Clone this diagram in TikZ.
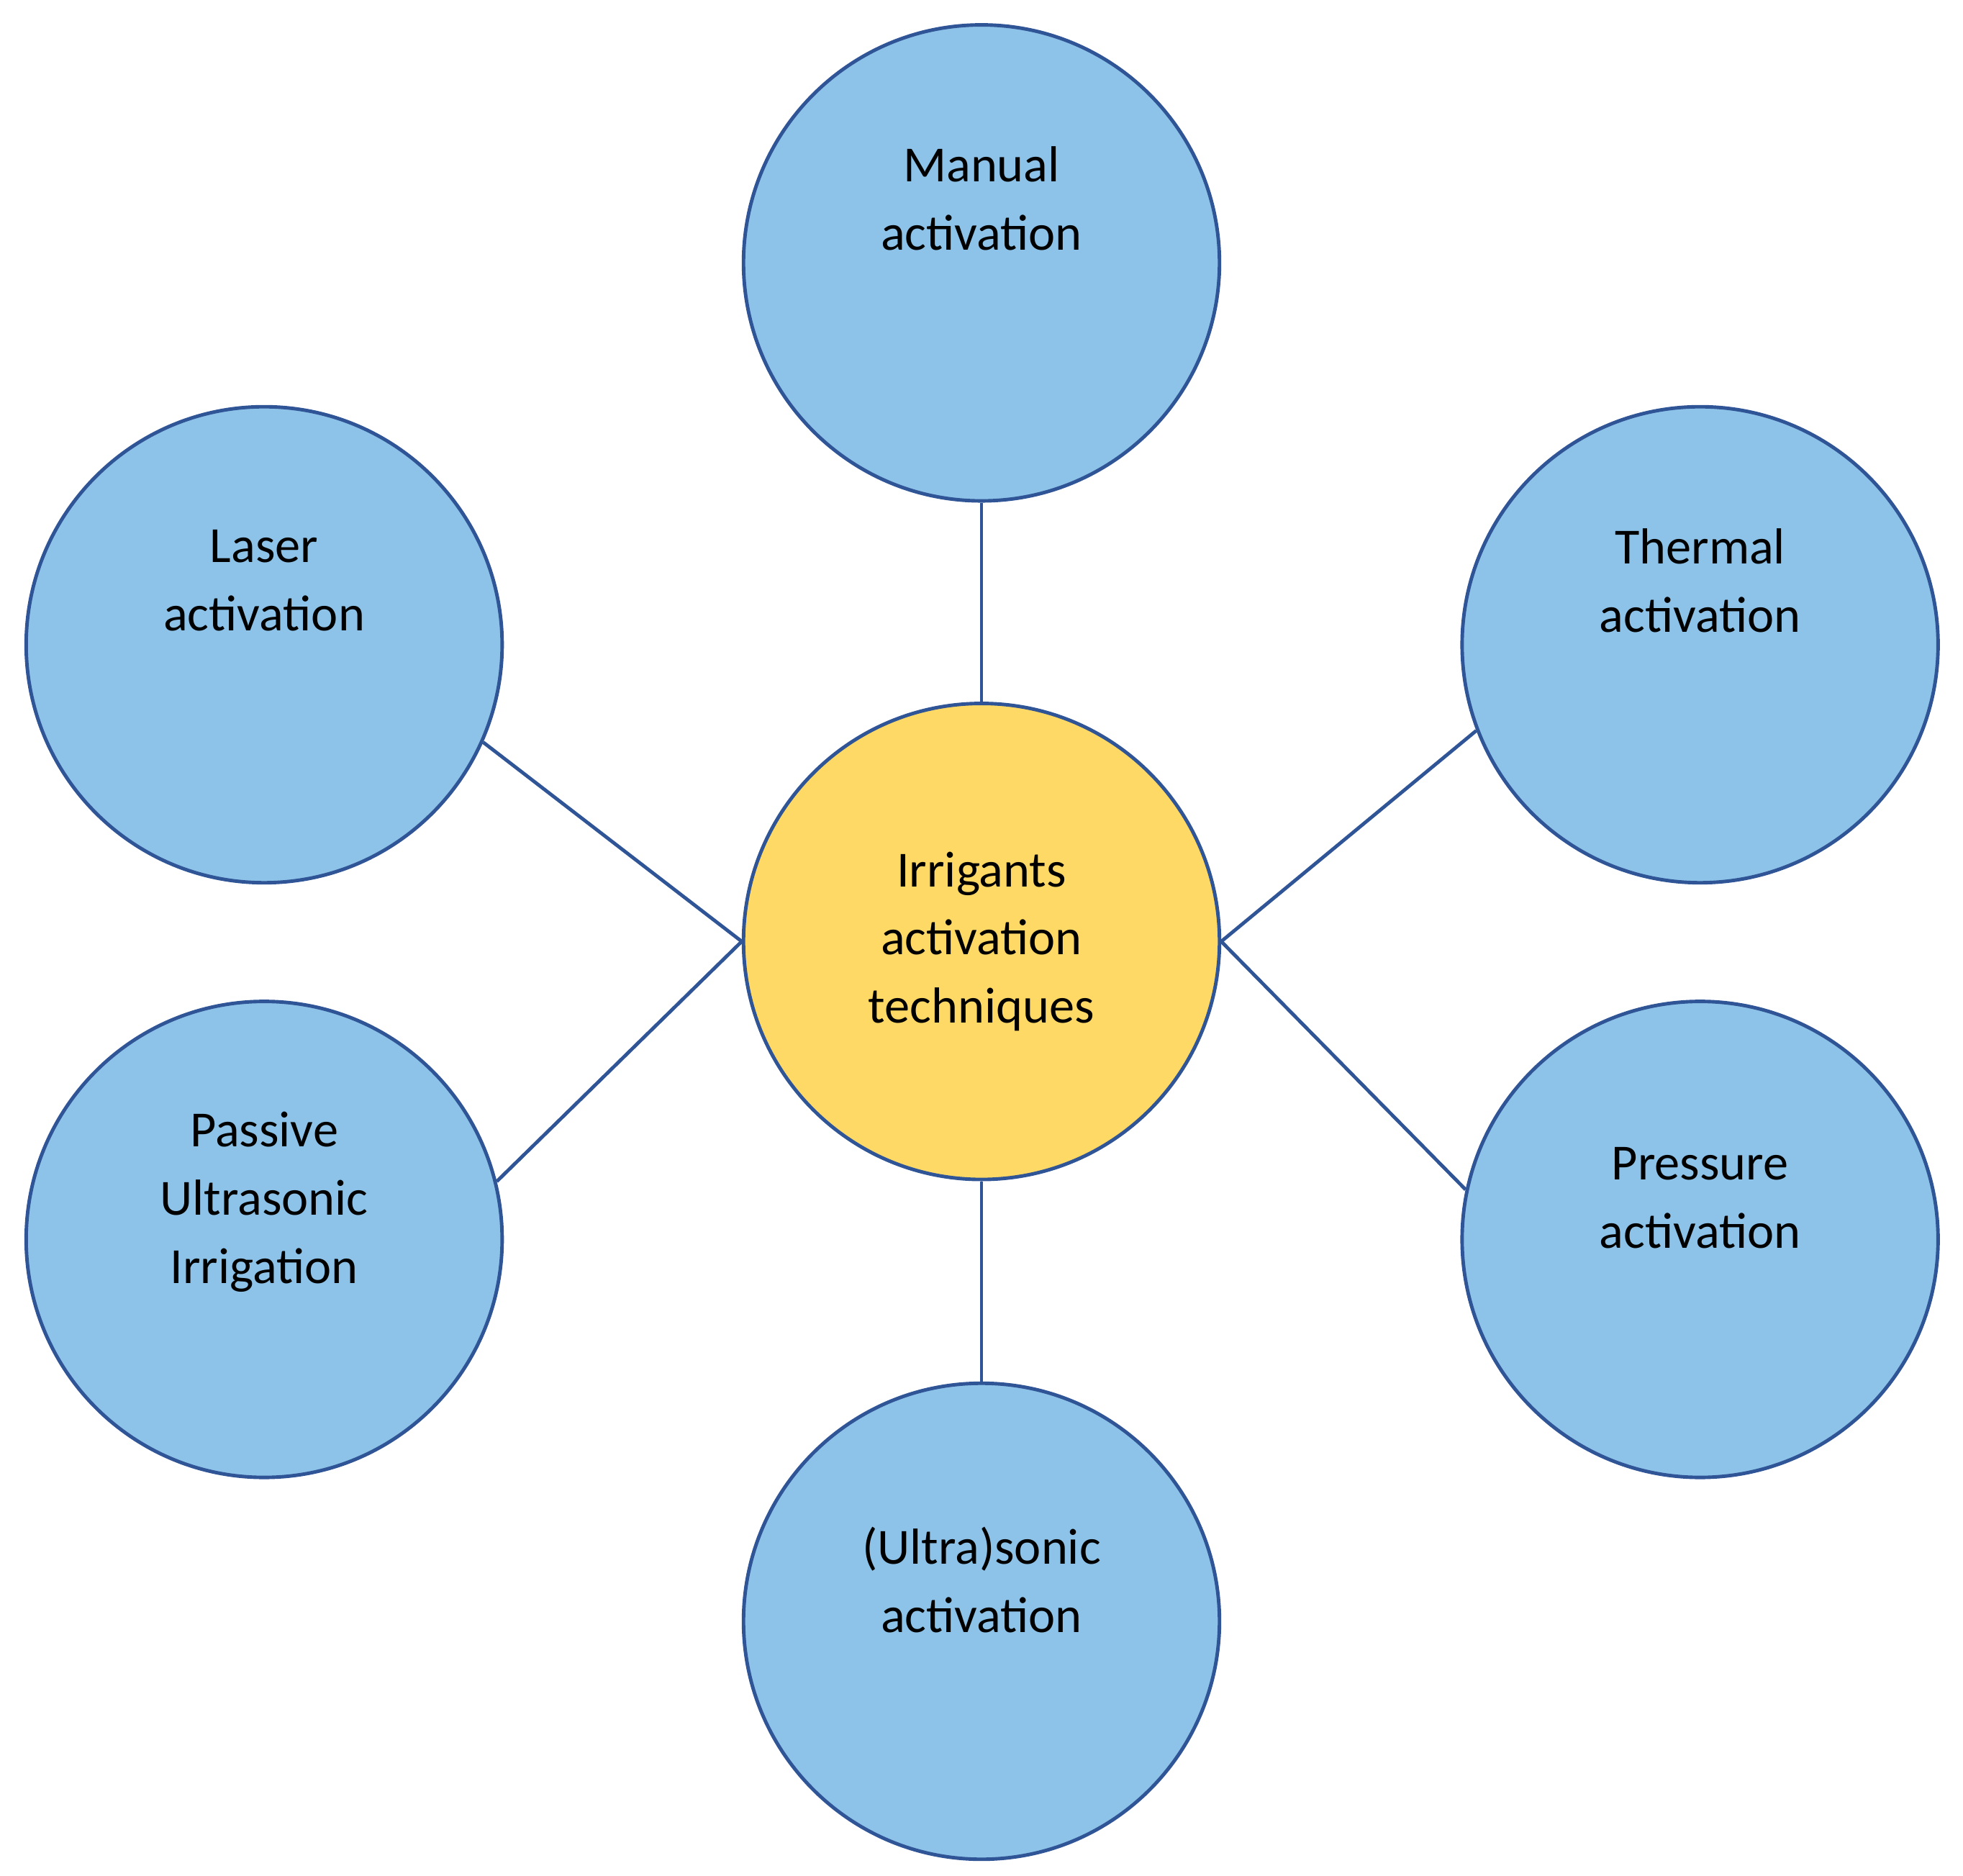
\documentclass[tikz,border=0pt]{standalone}
\usepackage{fontspec}
\setmainfont{Carlito}
\definecolor{bfill}{HTML}{8DC3E8}
\definecolor{bline}{HTML}{2F5597}
\definecolor{yfill}{HTML}{FFD966}
\begin{document}
\begin{tikzpicture}[x=0.01cm,y=-0.01cm,
  bub/.style={circle,draw=bline,line width=0.8pt,fill=bfill,minimum size=3.8cm,inner sep=0pt,align=center,font=\fontsize{11.5}{15.5}\selectfont},
  conn/.style={draw=bline,line width=0.8pt}]
\useasboundingbox (0,0) rectangle (1568,1498);
\node[bub,fill=yfill] (c) at (784,752) {Irrigants\\activation\\techniques};
\node[bub] (man) at (784,210) {Manual\\activation\\[1.2em]};
\node[bub] (las) at (211,515) {Laser\\activation\\[1.2em]};
\node[bub] (the) at (1358,515) {Thermal\\activation\\[1.2em]};
\node[bub] (pas) at (211,990) {Passive\\Ultrasonic\\Irrigation\\[0.3em]};
\node[bub] (pre) at (1358,990) {Pressure\\activation\\[0.3em]};
\node[bub] (ult) at (784,1295) {(Ultra)sonic\\activation\\[0.3em]};
\draw[conn] (c.north) -- (man.south);
\draw[conn] (c.south) -- (ult.north);
\draw[conn] (c.west) -- (las.-24);
\draw[conn] (c.west) -- (pas.14);
\draw[conn] (c.east) -- (the.201);
\draw[conn] (c.east) -- (pre.168);
\end{tikzpicture}
\end{document}
